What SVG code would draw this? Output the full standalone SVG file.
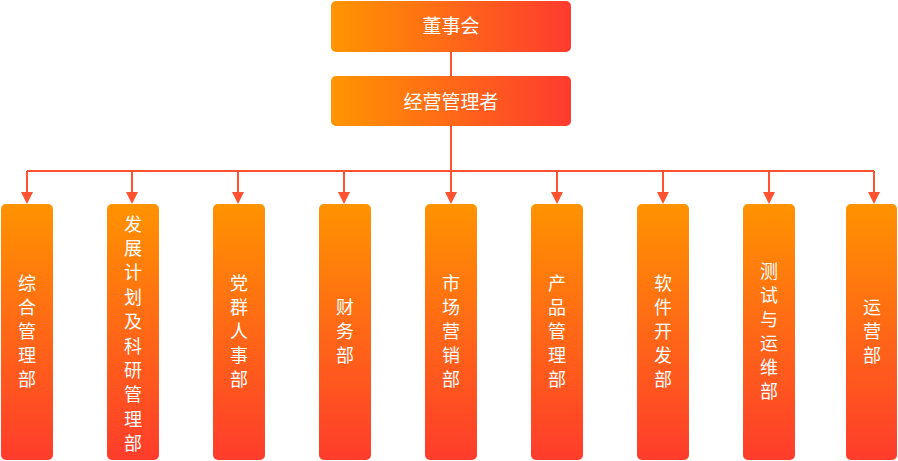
<svg xmlns="http://www.w3.org/2000/svg" width="898" height="461" viewBox="0 0 898 461">
<defs>
<linearGradient id="gh" x1="0" y1="0" x2="1" y2="0"><stop offset="0" stop-color="#FF9500"/><stop offset="1" stop-color="#FF3B2F"/></linearGradient>
<linearGradient id="gv" x1="0" y1="0" x2="0" y2="1"><stop offset="0" stop-color="#FF9300"/><stop offset="1" stop-color="#FF3C2C"/></linearGradient>
<style>
.h{fill:url(#gh)}
.v{fill:url(#gv)}
.t{fill:#fff;font-family:"Noto Sans CJK SC","Noto Sans",sans-serif;font-size:18px;text-anchor:middle}
.tt{font-size:19px}
.c{stroke:#FF5230;stroke-width:2;fill:none}
.ah{fill:#FF5230}
</style>
</defs>
<g id="connectors">
<path class="c" d="M451,52 V76 M451,126 V171 M27,171 H874"/>
<path class="c" d="M27,171 V194 M132,171 V194 M238,171 V194 M344,171 V194 M451,171 V194 M557,171 V194 M663,171 V194 M769,171 V194 M874,171 V194"/>
<g class="ah">
<path d="M21,192 H33 L27,204 Z"/>
<path d="M126,192 H138 L132,204 Z"/>
<path d="M232,192 H244 L238,204 Z"/>
<path d="M338,192 H350 L344,204 Z"/>
<path d="M445,192 H457 L451,204 Z"/>
<path d="M551,192 H563 L557,204 Z"/>
<path d="M657,192 H669 L663,204 Z"/>
<path d="M763,192 H775 L769,204 Z"/>
<path d="M868,192 H880 L874,204 Z"/>
</g>
</g>
<g id="board"><rect class="h" x="331" y="1" width="240" height="51" rx="5"/><text class="t tt" x="451" y="33">董事会</text></g>
<g id="mgr"><rect class="h" x="331" y="76" width="240" height="50" rx="5"/><text class="t tt" x="451" y="108.5">经营管理者</text></g>
<g id="d1"><rect class="v" x="1" y="204" width="52" height="256" rx="5"/><text class="t" x="27" y="290"><tspan x="27">综</tspan><tspan x="27" dy="24">合</tspan><tspan x="27" dy="24">管</tspan><tspan x="27" dy="24">理</tspan><tspan x="27" dy="24">部</tspan></text></g>
<g id="d2"><rect class="v" x="107" y="204" width="52" height="256" rx="5"/><text class="t" x="133" y="230.5"><tspan x="133">发</tspan><tspan x="133" dy="24.4">展</tspan><tspan x="133" dy="24.4">计</tspan><tspan x="133" dy="24.4">划</tspan><tspan x="133" dy="24.4">及</tspan><tspan x="133" dy="24.4">科</tspan><tspan x="133" dy="24.4">研</tspan><tspan x="133" dy="24.4">管</tspan><tspan x="133" dy="24.4">理</tspan><tspan x="133" dy="24.4">部</tspan></text></g>
<g id="d3"><rect class="v" x="213" y="204" width="52" height="256" rx="5"/><text class="t" x="239" y="290"><tspan x="239">党</tspan><tspan x="239" dy="24">群</tspan><tspan x="239" dy="24">人</tspan><tspan x="239" dy="24">事</tspan><tspan x="239" dy="24">部</tspan></text></g>
<g id="d4"><rect class="v" x="319" y="204" width="52" height="256" rx="5"/><text class="t" x="345" y="314"><tspan x="345">财</tspan><tspan x="345" dy="24">务</tspan><tspan x="345" dy="24">部</tspan></text></g>
<g id="d5"><rect class="v" x="425" y="204" width="52" height="256" rx="5"/><text class="t" x="451" y="290"><tspan x="451">市</tspan><tspan x="451" dy="24">场</tspan><tspan x="451" dy="24">营</tspan><tspan x="451" dy="24">销</tspan><tspan x="451" dy="24">部</tspan></text></g>
<g id="d6"><rect class="v" x="531" y="204" width="52" height="256" rx="5"/><text class="t" x="557" y="290"><tspan x="557">产</tspan><tspan x="557" dy="24">品</tspan><tspan x="557" dy="24">管</tspan><tspan x="557" dy="24">理</tspan><tspan x="557" dy="24">部</tspan></text></g>
<g id="d7"><rect class="v" x="637" y="204" width="52" height="256" rx="5"/><text class="t" x="663" y="290"><tspan x="663">软</tspan><tspan x="663" dy="24">件</tspan><tspan x="663" dy="24">开</tspan><tspan x="663" dy="24">发</tspan><tspan x="663" dy="24">部</tspan></text></g>
<g id="d8"><rect class="v" x="743" y="204" width="52" height="256" rx="5"/><text class="t" x="769" y="278"><tspan x="769">测</tspan><tspan x="769" dy="24">试</tspan><tspan x="769" dy="24">与</tspan><tspan x="769" dy="24">运</tspan><tspan x="769" dy="24">维</tspan><tspan x="769" dy="24">部</tspan></text></g>
<g id="d9"><rect class="v" x="846" y="204" width="51" height="256" rx="5"/><text class="t" x="872" y="314"><tspan x="872">运</tspan><tspan x="872" dy="24">营</tspan><tspan x="872" dy="24">部</tspan></text></g>
</svg>
